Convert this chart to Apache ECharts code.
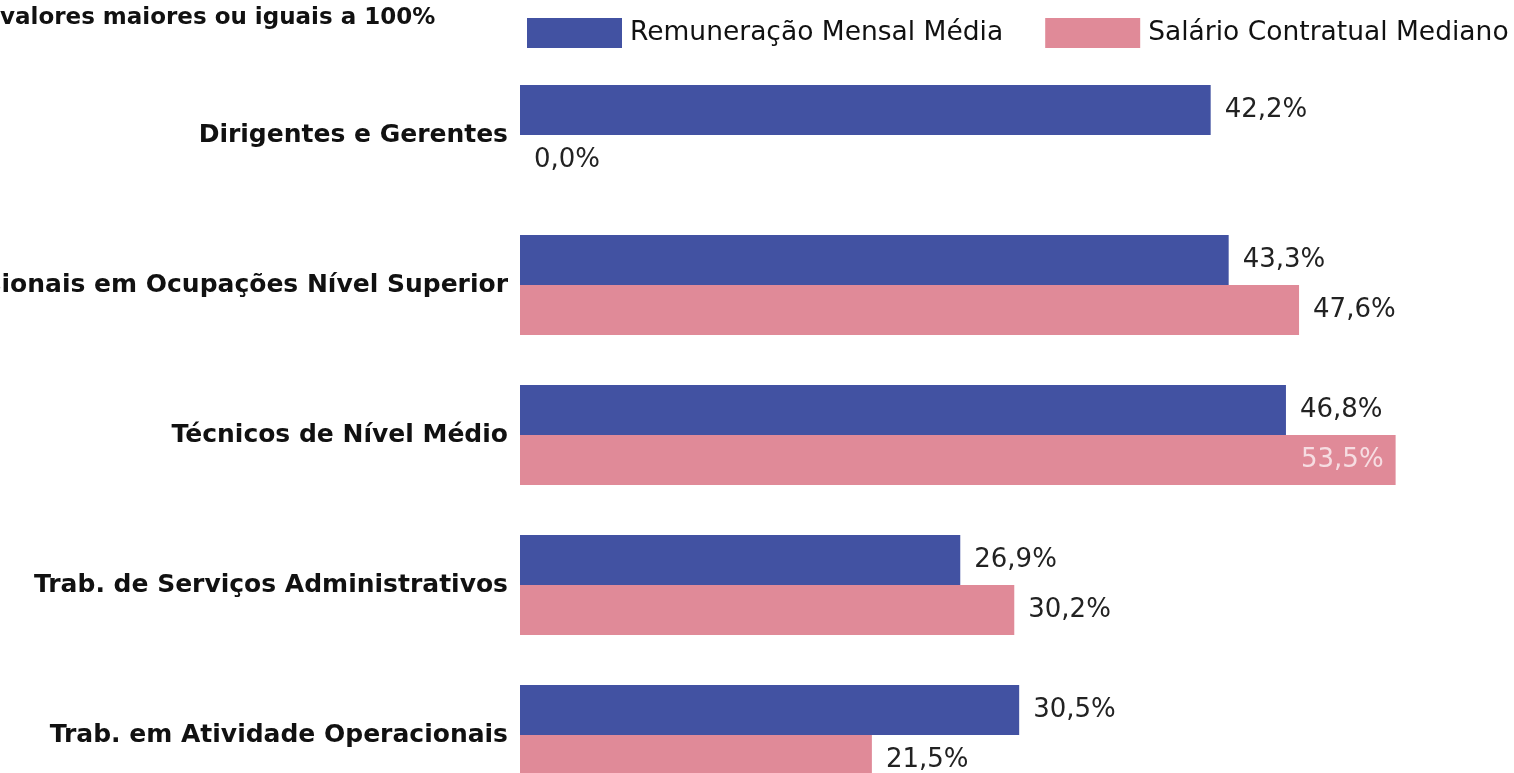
<!DOCTYPE html>
<html>
<head>
<meta charset="utf-8">
<script src="https://cdn.jsdelivr.net/npm/echarts@6/dist/echarts.min.js"></script>
<style>
  html, body { margin: 0; padding: 0; background: #fff; }
  #chart { width: 1514px; height: 773px; }
</style>
</head>
<body>
<div id="chart"></div>
<script>
var categorias = ['Dirigentes e Gerentes', 'Profissionais em Ocupações Nível Superior', 'Técnicos de Nível Médio', 'Trab. de Serviços Administrativos', 'Trab. em Atividade Operacionais'];
var remuneracao = [42.2, 43.3, 46.8, 26.9, 30.5];
var salario = [0.0, 47.6, 53.5, 30.2, 21.5];
var nomesSeries = ['Remuneração Mensal Média', 'Salário Contratual Mediano'];

var chart = echarts.init(document.getElementById('chart'));

// rótulos no formato brasileiro: 42,2%
function fmt(p) {
    return p.value.toFixed(1).replace('.', ',') + '%';
}

var option = {
    animation: false,
    backgroundColor: '#fff',
    graphic: [{
        type: 'text',
        left: 0,
        top: 7,
        style: {
            text: 'valores maiores ou iguais a 100%',
            font: 'bold 23px "DejaVu Sans", Verdana, sans-serif',
            fill: '#111'
        }
    }],
    legend: {
        data: nomesSeries,
        orient: 'horizontal',
        left: 522,
        top: 13,
        width: 1200,
        itemWidth: 95,
        itemHeight: 30,
        itemGap: 42,
        icon: 'rect',
        textStyle: {
            color: '#111',
            fontSize: 26.5,
            padding: [0, 0, 0, 3],
            fontFamily: '"DejaVu Sans", Verdana, sans-serif'
        }
    },
    grid: {
        left: 520,
        top: 60,
        width: 982,
        height: 750,
        outerBoundsMode: 'none',
        containLabel: false
    },
    xAxis: {
        type: 'value',
        min: 0,
        max: 60,
        show: false
    },
    yAxis: {
        type: 'category',
        data: categorias,
        inverse: true,
        axisLine: { show: false },
        axisTick: { show: false },
        axisLabel: {
            margin: 12,
            color: '#111',
            fontSize: 25,
            fontWeight: 'bold',
            fontFamily: '"DejaVu Sans", Verdana, sans-serif'
        }
    },
    series: [
        {
            name: nomesSeries[0],
            type: 'bar',
            data: remuneracao,
            barWidth: 50,
            barGap: '0%',
            barCategoryGap: '33.3%',
            itemStyle: { color: '#4252A2' },
            label: {
                show: true,
                position: 'right',
                distance: 14,
                formatter: fmt,
                color: '#222',
                fontSize: 26,
                fontFamily: '"DejaVu Sans", Verdana, sans-serif'
            }
        },
        {
            name: nomesSeries[1],
            type: 'bar',
            data: salario.map(function (v) {
                // 53,5% fica dentro da barra, em branco
                if (v >= 50) {
                    return { value: v, label: { position: 'insideRight', distance: 12, color: '#f6dde2' } };
                }
                return v;
            }),
            barWidth: 50,
            barGap: '0%',
            itemStyle: { color: '#E08A98' },
            label: {
                show: true,
                position: 'right',
                distance: 14,
                formatter: fmt,
                color: '#222',
                fontSize: 26,
                fontFamily: '"DejaVu Sans", Verdana, sans-serif'
            }
        }
    ]
};

chart.setOption(option);
</script>
</body>
</html>
